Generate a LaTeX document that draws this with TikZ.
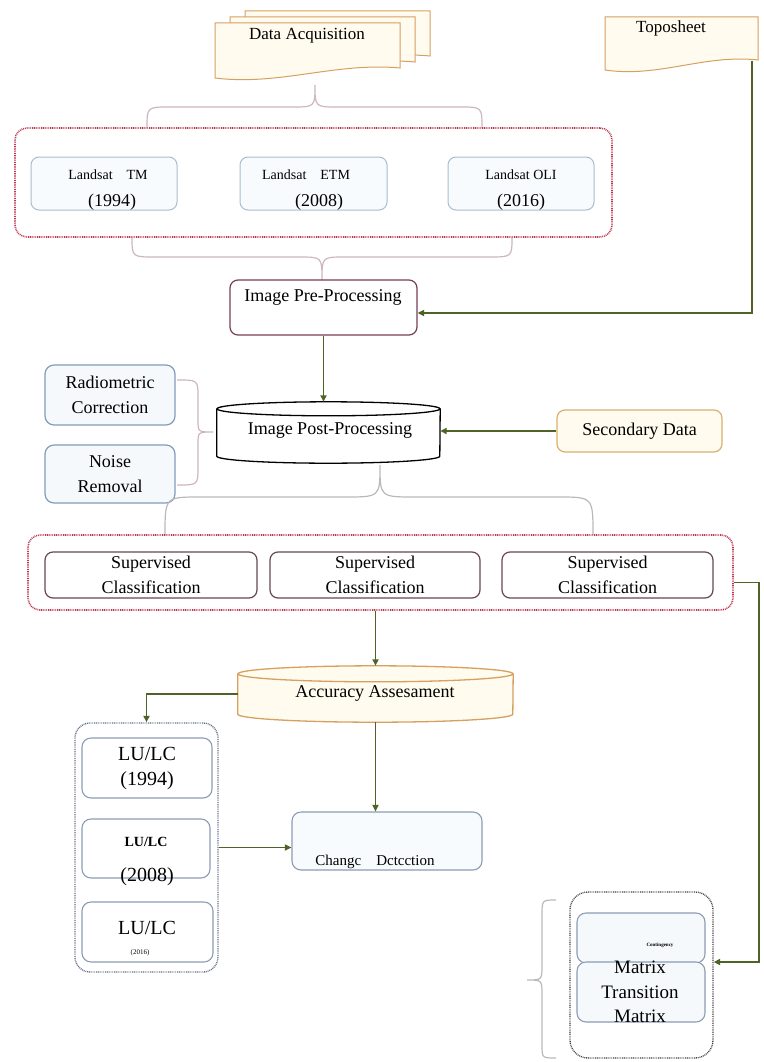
\documentclass[tikz,border=0pt]{standalone}
\usepackage{fontspec}
\setmainfont{Liberation Serif}
\usetikzlibrary{arrows.meta,calc}

\definecolor{flowgreen}{RGB}{79,98,40}
\definecolor{docedge}{RGB}{214,160,96}
\definecolor{docfill}{RGB}{255,251,238}
\definecolor{grpred}{RGB}{192,56,80}
\definecolor{skyedge}{RGB}{168,190,208}
\definecolor{skyfill}{RGB}{248,251,253}
\definecolor{plumedge}{RGB}{120,62,86}
\definecolor{steeledge}{RGB}{128,156,186}
\definecolor{steelfill}{RGB}{246,249,252}
\definecolor{sandedge}{RGB}{216,176,112}
\definecolor{maroonedge}{RGB}{104,72,82}
\definecolor{braceclr}{RGB}{205,182,192}
\definecolor{bracegray}{RGB}{188,184,186}
\definecolor{lugrp}{RGB}{100,112,132}
\definecolor{luedge}{RGB}{140,156,178}

% page-style document outline: x1, top, x2, bottom (left)
\newcommand{\docshape}[4]{(#1,#2) -- (#3,#2) -- (#3,{#4-10}) .. controls ({#1+0.65*(#3-#1)},{#4-16}) and ({#1+0.35*(#3-#1)},{#4+8}) .. (#1,#4) -- cycle}

\begin{document}
\begin{tikzpicture}[x=1pt,y=-1pt,
  lbl/.style={font=\fontsize{18}{25}\selectfont, align=center, inner sep=0pt},
  satlbl/.style={font=\fontsize{14}{16}\selectfont, inner sep=0pt},
  docbox/.style={draw=docedge, fill=docfill, line width=1pt},
  grpbox/.style={draw=grpred, line width=1.6pt, dash pattern=on 0.9pt off 0.9pt, rounded corners=12pt, fill=white, inner sep=0pt},
  skybox/.style={draw=skyedge, fill=skyfill, line width=1pt, rounded corners=8pt, inner sep=0pt},
  steelbox/.style={draw=steeledge, fill=steelfill, line width=1.2pt, rounded corners=9pt, inner sep=0pt},
  scbox/.style={draw=maroonedge, line width=1.2pt, rounded corners=8pt, fill=white, inner sep=0pt, lbl},
  lubox/.style={draw=luedge, fill=white, line width=1.1pt, rounded corners=9pt, inner sep=0pt},
  flow/.style={draw=flowgreen, line width=1.7pt, -{Triangle[length=6.5pt,width=6pt]}},
  brc/.style={draw=braceclr, line width=1.2pt}]
\useasboundingbox (0,0) rectangle (763,1062);

% Data acquisition stack
\draw[docbox] \docshape{245}{11}{430}{66};
\draw[docbox] \docshape{230}{17}{415}{72};
\draw[docbox] \docshape{215}{23}{400}{78};
\node[lbl, font=\fontsize{17}{20}\selectfont] (daq) at (307,36) {Data Acquisition};

% Toposheet
\draw[docbox] \docshape{605}{17}{758}{70};
\node[lbl, font=\fontsize{17}{20}\selectfont] (topo) at (671,28) {Toposheet};
\coordinate (topoBot) at (752,61);

% Satellite data
\draw[brc] (147,128) .. controls (147,107) .. (170,107) -- (292,107) .. controls (315,107) .. (315,85)
  .. controls (315,107) .. (338,107) -- (460,107) .. controls (482,107) .. (482,128);
\draw[brc] (132,237) .. controls (132,257) .. (155,257) -- (299,257) .. controls (322,257) .. (322,280)
  .. controls (322,257) .. (345,257) -- (489,257) .. controls (512,257) .. (512,237);
\node[grpbox, minimum width=597pt, minimum height=109pt] (sat) at (313.5,182.5) {};
\node[skybox, minimum width=146pt, minimum height=53pt] (tm) at (104,183.5) {};
\node[skybox, minimum width=147pt, minimum height=53pt] (etm) at (313.5,183.5) {};
\node[skybox, minimum width=146pt, minimum height=53pt] (oli) at (521,183.5) {};
\node[satlbl] (tmA) at (108,175) {Landsat\quad TM};
\node[lbl] (tmB) at (112,202) {(1994)};
\node[satlbl] (etmA) at (306,175) {Landsat\quad ETM};
\node[lbl] (etmB) at (319,202) {(2008)};
\node[satlbl] (oliA) at (521,175) {Landsat OLI};
\node[lbl] (oliB) at (521,202) {(2016)};

% Pre-processing
\node[draw=plumedge, line width=1.2pt, rounded corners=8pt, fill=white, minimum width=187pt, minimum height=55pt] (prep) at (323.5,307.5) {};
\node[lbl] (prepTxt) at (323,297) {Image Pre-Processing};
\draw[flow] (topoBot) |- ([yshift=-5.5pt]prep.east);

% Post-processing
\node[minimum width=223pt, minimum height=47pt, inner sep=0pt] (post) at (328.5,432.5) {};
\draw[line width=1.3pt, fill=white] (post.north west) -- (post.south west)
  arc[start angle=180, end angle=360, x radius=111.5pt, y radius=7pt] -- (post.north east);
\draw[line width=1.3pt, fill=white] (post.north) ellipse[x radius=111.5pt, y radius=7pt];
\node[lbl] (postTxt) at (330,430) {Image Post-Processing};
\draw[flow, shorten >=7pt] (prep.south) -- (prep.south |- post.north);

\node[steelbox, lbl, minimum width=130pt, minimum height=60pt] (radio) at (110,395) {Radiometric\\Correction};
\node[steelbox, lbl, minimum width=130pt, minimum height=58pt] (noise) at (110,474) {Noise\\Removal};
\draw[brc] (177,380) .. controls (198,380) .. (198,397) -- (198,420) .. controls (198,432) .. (213,432)
  .. controls (198,432) .. (198,444) -- (198,467) .. controls (198,485) .. (177,485);

\node[draw=sandedge, fill=docfill, line width=1.2pt, rounded corners=8pt, lbl, minimum width=165pt, minimum height=42pt] (sec) at (639.5,431) {Secondary Data};
\draw[flow] (sec.west) -- (sec.west -| post.east);

% Classification
\draw[brc, draw=bracegray] (165,535) .. controls (165,497) .. (200,497) -- (345,497) .. controls (380,497) .. (380,465)
  .. controls (380,497) .. (415,497) -- (558,497) .. controls (593,497) .. (593,535);
\node[grpbox, minimum width=705pt, minimum height=75pt] (cls) at (380.5,572.5) {};
\node[scbox, minimum width=212pt, minimum height=46pt] (sc1) at (151,575) {Supervised\\Classification};
\node[scbox, minimum width=210pt, minimum height=46pt] (sc2) at (375,575) {Supervised\\Classification};
\node[scbox, minimum width=211pt, minimum height=46pt] (sc3) at (607.5,575) {Supervised\\Classification};

% Accuracy
\node[minimum width=275pt, minimum height=40pt, inner sep=0pt] (acc) at (375.5,694) {};
\draw[draw=docedge, line width=1.3pt, fill=docfill] (acc.north west) -- (acc.south west)
  arc[start angle=180, end angle=360, x radius=137.5pt, y radius=8pt] -- (acc.north east);
\draw[draw=docedge, line width=1.3pt, fill=docfill] (acc.north) ellipse[x radius=137.5pt, y radius=8pt];
\node[lbl] (accTxt) at (375,693) {Accuracy Assesament};
\draw[flow, shorten >=8pt] (cls.south -| acc.north) -- (acc.north);

% LU/LC maps
\node[draw=lugrp, line width=1.4pt, dash pattern=on 0.9pt off 0.9pt, rounded corners=15pt, minimum width=143pt, minimum height=249pt] (lu) at (146.5,847.5) {};
\draw[flow] (acc.west) -| (lu.north);
\node[lubox, lbl, font=\fontsize{20}{25}\selectfont, minimum width=130pt, minimum height=60pt] (lu1) at (147,768) {LU/LC\\(1994)};
\node[lubox, minimum width=128pt, minimum height=59pt] (lu2) at (146,848.5) {};
\node[satlbl, font=\bfseries\fontsize{14}{16}\selectfont] (lu2A) at (146,842) {LU/LC};
\node[lbl, font=\fontsize{20}{22}\selectfont] (lu2B) at (147,877) {(2008)};
\node[lubox, minimum width=131pt, minimum height=60pt] (lu3) at (147.5,932) {};
\node[lbl, font=\fontsize{20}{22}\selectfont] (lu3A) at (147,928) {LU/LC};
\node[inner sep=0pt, font=\fontsize{7}{8}\selectfont] (lu3B) at (140,953) {(2016)};

% Change detection
\node[lubox, fill=skyfill, minimum width=190pt, minimum height=58pt] (chg) at (387,841) {};
\node[inner sep=0pt, font=\fontsize{15}{17}\selectfont] (chgTxt) at (375,862) {Changc\quad Dctcction};
\draw[flow, shorten <=8pt] (acc.south) -- (acc.south |- chg.north);
\draw[flow] (lu.east) -- (lu.east -| chg.west);

% Matrices
\draw[brc, draw=bracegray] (556,900) .. controls (542,900) .. (542,915) -- (542,965) .. controls (542,980) .. (527,980)
  .. controls (542,980) .. (542,995) -- (542,1045) .. controls (542,1058) .. (556,1058);
\node[draw=darkgray, line width=1.3pt, dash pattern=on 0.9pt off 0.9pt, rounded corners=18pt, minimum width=143pt, minimum height=166pt] (mat) at (641.5,975) {};
\node[lubox, fill=steelfill, minimum width=128pt, minimum height=50pt] (cont) at (641,938) {};
\node[lubox, fill=steelfill, minimum width=128pt, minimum height=60pt] (trans) at (641,992) {};
\node[inner sep=0pt, font=\bfseries\fontsize{5}{6}\selectfont] (contTxt) at (660,945) {Contingency};
\node[lbl, font=\fontsize{19}{24.5}\selectfont] (transTxt) at (640,992) {Matrix\\Transition\\Matrix};
\coordinate (rail) at (759,600);
\draw[flow] ([yshift=-10pt]cls.east) -| (rail) |- ([yshift=13pt]mat.east);
\end{tikzpicture}
\end{document}
